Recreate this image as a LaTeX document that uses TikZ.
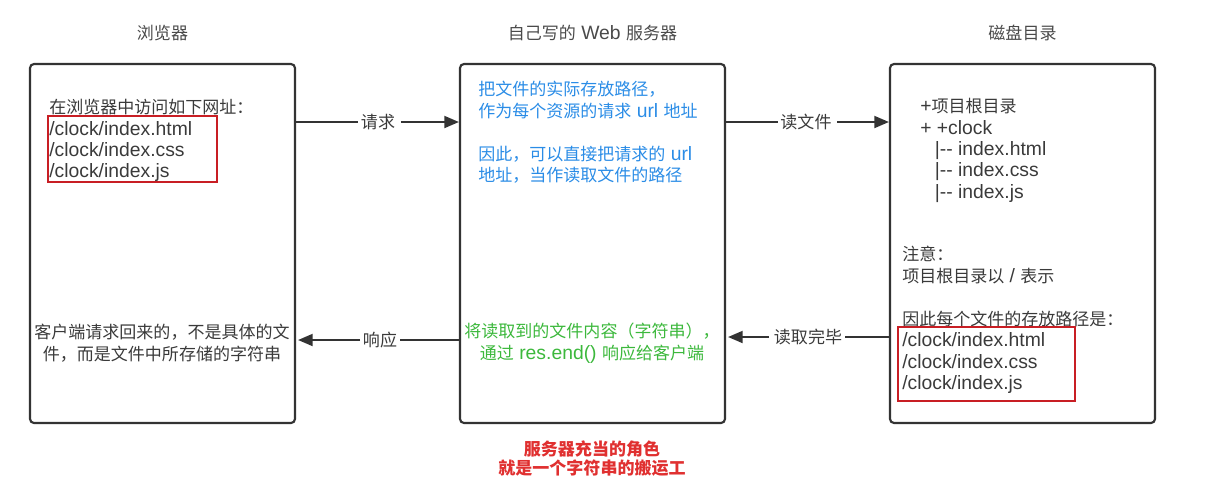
\documentclass[tikz,border=0pt]{standalone}
\usepackage{fontspec}
\setmainfont{Liberation Sans}
\newfontfamily\cjk{Noto Sans CJK SC}[Scale=0.88]
\newcommand\zh[1]{{\cjk #1}}
\usepackage{tikz}
\usetikzlibrary{arrows.meta,positioning}
\usepackage{xcolor}
\definecolor{boxgray}{HTML}{333333}
\definecolor{textgray}{HTML}{3A3A3A}
\definecolor{titlegray}{HTML}{4A4A4A}
\definecolor{pathblue}{HTML}{2A8CE6}
\definecolor{sendgreen}{HTML}{3CB83C}
\definecolor{rolered}{HTML}{E03030}
\definecolor{markred}{HTML}{C81E24}
\tikzset{
  panel/.style={draw=boxgray,line width=1.6pt,rounded corners=3pt,
    minimum width=198.75pt,minimum height=269.25pt,inner sep=0pt},
  title/.style={font=\fontsize{14.5}{16.1}\selectfont,text=titlegray,inner sep=0pt},
  body/.style={font=\fontsize{14.5}{16.1}\selectfont,text=textgray,inner sep=0pt,
    align=left,anchor=north west},
  markbox/.style={draw=markred,line width=2.1pt,inner sep=0pt},
  arrow/.style={-{Triangle[length=11pt,width=9pt]},draw=boxgray,line width=1.5pt},
  lbl/.style={font=\fontsize{14.5}{16.1}\selectfont,text=textgray,inner sep=2pt}
}
\begin{document}
\begin{tikzpicture}[x=0.75pt,y=-0.75pt]
  \useasboundingbox (0,0) rectangle (1208,487);
  % three panels
  \node[panel] (browser) at (162.5,243.5) {};
  \node[panel] (server) at (592.5,243.5) {};
  \node[panel] (disk) at (1022.5,243.5) {};
  \node[title,above=16pt of browser] (tbrowser) {\zh{浏览器}};
  \node[title,above=16pt of server] (tserver) {\zh{自己写的} Web \zh{服务器}};
  \node[title,above=16pt of disk] (tdisk) {\zh{磁盘目录}};

  % browser side
  \node[body] (visit) at (49,99) {\zh{在浏览器中访问如下网址：}\\/clock/index.html\\/clock/index.css\\/clock/index.js};
  \node[markbox,minimum width=126.75pt,minimum height=49.5pt] (urls) at (132.5,149) {};
  \node[body,align=center,anchor=north] (result) at (162,324)
    {\zh{客户端请求回来的，不是具体的文}\\\zh{件，而是文件中所存储的字符串}};

  % server side
  \node[body,text=pathblue] (idea) at (478,81)
    {\zh{把文件的实际存放路径，}\\\zh{作为每个资源的请求} url \zh{地址}\\[16.1pt]%
     \zh{因此，可以直接把请求的} url\\\zh{地址，当作读取文件的路径}};
  \node[body,text=sendgreen,align=center,anchor=north] (send) at (592,323)
    {\zh{将读取到的文件内容（字符串），}\\\zh{通过} res.end() \zh{响应给客户端}};
  \node[title,text=rolered,align=center,anchor=north,font=\fontsize{14.5}{14.25}\selectfont\bfseries] (role) at (592,441)
    {\zh{服务器充当的角色}\\\zh{就是一个字符串的搬运工}};

  % disk side
  \node[body] (tree) at (920,98)
    {+\zh{项目根目录}\\+ +clock\\\hspace*{11pt}|-{}- index.html\\\hspace*{11pt}|-{}- index.css\\\hspace*{11pt}|-{}- index.js};
  \node[body] (note) at (902,246)
    {\zh{注意：}\\\zh{项目根目录以} / \zh{表示}\\[16.1pt]\zh{因此每个文件的存放路径是：}\\/clock/index.html\\/clock/index.css\\/clock/index.js};
  \node[markbox,minimum width=132.75pt,minimum height=55.5pt] (paths) at (986.5,364) {};

  % connectors
  \node[lbl] (req) at (378,122) {\zh{请求}};
  \node[lbl] (read) at (806,122) {\zh{读文件}};
  \node[lbl] (resp) at (380,340) {\zh{响应}};
  \node[lbl] (done) at (808,337) {\zh{读取完毕}};
  \draw[arrow,shorten <=2.25pt] (browser.east |- req) -- (req) -- (server.west |- req);
  \draw[arrow,shorten <=2.25pt] (server.east |- read) -- (read) -- (disk.west |- read);
  \draw[arrow,shorten >=1.5pt] (server.west |- resp) -- (resp) -- (browser.east |- resp);
  \draw[arrow,shorten <=1.5pt,shorten >=1.5pt] (disk.west |- done) -- (done) -- (server.east |- done);
\end{tikzpicture}
\end{document}
